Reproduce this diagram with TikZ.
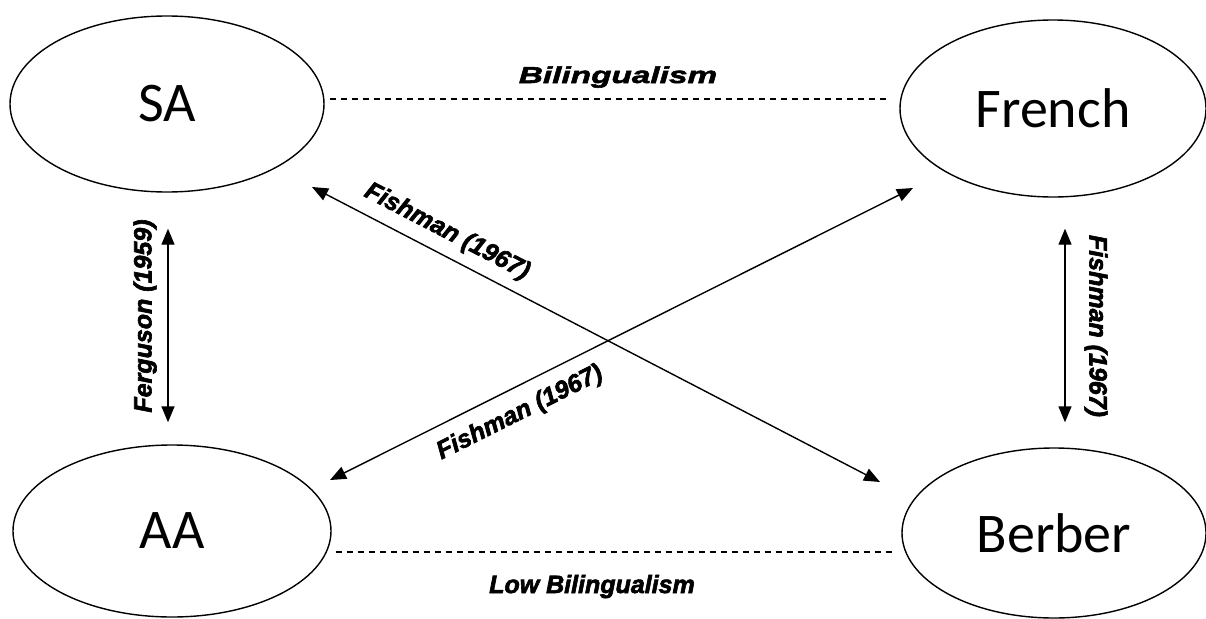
\documentclass[tikz,border=0pt]{standalone}
\usepackage{fontspec}
\setmainfont{Carlito}
\newfontfamily\lblfont[BoldItalicFeatures={FakeBold=2.5}]{Liberation Sans}
\newfontfamily\widelblfont[BoldItalicFeatures={FakeBold=2.5,FakeStretch=1.45}]{Liberation Sans}
\usetikzlibrary{shapes.geometric,arrows.meta,calc}
\tikzset{
  lang/.style={ellipse,draw,line width=1.4pt,inner sep=0pt,font=\fontsize{56}{60}\selectfont},
  dashline/.style={line width=1.2pt,dash pattern=on 6pt off 5pt},
  biarrow/.style={line width=1.4pt,{Triangle[length=16pt,width=13pt]}-{Triangle[length=16pt,width=13pt]}},
  lbl/.style={inner sep=0pt,font=\lblfont\bfseries\itshape\fontsize{25}{28}\selectfont},
  widelbl/.style={inner sep=0pt,font=\widelblfont\bfseries\itshape\fontsize{23}{28}\selectfont}
}
\begin{document}
\begin{tikzpicture}[x=1pt,y=1pt]
\useasboundingbox (0,0) rectangle (1206,-618);
\node[lang,minimum width=314pt,minimum height=176pt] (SA) at (167,-104) {SA};
\node[lang,minimum width=306pt,minimum height=177pt] (French) at (1053,-108.5) {French};
\node[lang,minimum width=318pt,minimum height=172pt] (AA) at (172,-531) {AA};
\node[lang,minimum width=304pt,minimum height=170pt] (Berber) at (1054,-533) {Berber};
% dashed relations
\draw[dashline] ([shift={(5,5)}]SA.east) -- ([shift={(-10,9.5)}]French.west);
\draw[dashline] ([shift={(4,-21)}]AA.east) -- ([shift={(-9,-19)}]Berber.west);
\node[widelbl,anchor=base] (bil) at (618,-83) {Bilingualism};
\node[lbl,anchor=base] (lowbil) at (592,-593) {Low Bilingualism};
% vertical arrows
\draw[biarrow] ([shift={(1,-36)}]SA.south) -- ([shift={(-4,22)}]AA.north);
\draw[biarrow] ([shift={(12,-31)}]French.south) -- ([shift={(11,25)}]Berber.north);
\node[lbl,rotate=90] (ferg) at (145,-316) {Ferguson (1959)};
\node[lbl,rotate=-90] (fishr) at (1096,-326) {Fishman (1967)};
% diagonal arrows
\draw[biarrow] ($(SA.center)+(145,-83)$) -- ($(Berber.center)+(-174,51)$);
\draw[biarrow] ($(French.center)+(-140,-79.5)$) -- ($(AA.center)+(158,51)$);
\node[lbl,rotate=-27.4] (fish1) at (447,-232) {Fishman (1967)};
\node[lbl,rotate=26.6] (fish2) at (520,-413) {Fishman (1967)};
\end{tikzpicture}
\end{document}
